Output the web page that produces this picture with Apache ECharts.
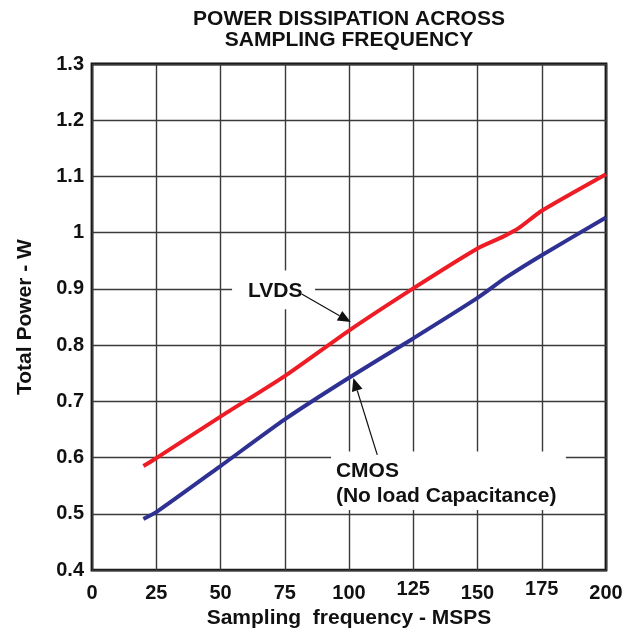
<!DOCTYPE html>
<html>
<head>
<meta charset="utf-8">
<script src="https://cdn.jsdelivr.net/npm/echarts@6/dist/echarts.min.js"></script>
<style>html,body{margin:0;padding:0;background:#fff;}#c{width:632px;height:634px;}</style>
</head>
<body>
<div id="c"></div>
<script>
// Data
var lvdsFreq = [20, 25, 50, 75, 100, 125, 150, 160, 166, 175, 200];
var lvdsPower = [0.585, 0.599, 0.673, 0.745, 0.826, 0.901, 0.972, 0.993, 1.008, 1.039, 1.104];
var cmosFreq = [20, 25, 50, 75, 100, 125, 150, 161, 175, 200];
var cmosPower = [0.491, 0.503, 0.585, 0.668, 0.742, 0.812, 0.884, 0.92, 0.96, 1.027];
var xTicks = [0, 25, 50, 75, 100, 125, 150, 175, 200];
var yTicks = [0.4, 0.5, 0.6, 0.7, 0.8, 0.9, 1, 1.1, 1.2, 1.3];
var raisedXTicks = [125, 175];
var titleText = 'POWER DISSIPATION ACROSS\nSAMPLING FREQUENCY';
var xName = 'Sampling  frequency - MSPS';
var yName = 'Total Power - W';
var lvdsLabel = 'LVDS';
var cmosLabel = 'CMOS\n(No load Capacitance)';

var FONT = '"Liberation Sans", Arial, sans-serif';
var INK = '#111';
var chart = echarts.init(document.getElementById('c'), null, {renderer: 'canvas'});

function pairs(xs, ys) { return xs.map(function (x, i) { return [x, ys[i]]; }); }

var option = {
  animation: false,
  backgroundColor: '#fff',
  title: {
    text: titleText,
    left: 344, top: 4, textAlign: 'center',
    textStyle: {fontFamily: FONT, fontWeight: 'bold', fontSize: 21, lineHeight: 21, color: INK}
  },
  grid: {left: 92, right: 26, top: 64, bottom: 58, show: true, borderColor: INK, borderWidth: 2.8, backgroundColor: 'transparent'},
  xAxis: {
    type: 'value', min: xTicks[0], max: xTicks[xTicks.length - 1], interval: xTicks[1] - xTicks[0],
    name: xName, nameLocation: 'middle', nameGap: 36,
    nameTextStyle: {fontFamily: FONT, fontWeight: 'bold', fontSize: 21, color: INK},
    axisLine: {show: false}, axisTick: {show: false},
    axisLabel: {
      margin: 10,
      formatter: function (v) { return (raisedXTicks.indexOf(v) >= 0) ? '{up|' + v + '}' : '{n|' + v + '}'; },
      rich: {
        n: {fontFamily: FONT, fontWeight: 'bold', fontSize: 20, color: INK, lineHeight: 26},
        up: {fontFamily: FONT, fontWeight: 'bold', fontSize: 20, color: INK, lineHeight: 18}
      }
    },
    splitLine: {show: true, lineStyle: {color: '#3a3a3a', width: 1.4}}
  },
  yAxis: {
    type: 'value', min: yTicks[0], max: yTicks[yTicks.length - 1], interval: 0.1,
    name: yName, nameLocation: 'middle', nameGap: 56, nameRotate: 90,
    nameTextStyle: {fontFamily: FONT, fontWeight: 'bold', fontSize: 21, color: INK},
    axisLine: {show: false}, axisTick: {show: false},
    axisLabel: {
      fontFamily: FONT, fontWeight: 'bold', fontSize: 20, color: INK, margin: 8,
      formatter: function (v) { return String(Math.round(v * 10) / 10); }
    },
    splitLine: {show: true, lineStyle: {color: '#3a3a3a', width: 1.4}}
  },
  series: [
    {name: 'LVDS', type: 'line', data: pairs(lvdsFreq, lvdsPower), showSymbol: false, smooth: 0.2,
     lineStyle: {color: '#ee1c25', width: 4}, z: 5},
    {name: 'CMOS', type: 'line', data: pairs(cmosFreq, cmosPower), showSymbol: false, smooth: 0.2,
     lineStyle: {color: '#2e3192', width: 4}, z: 5}
  ]
};
chart.setOption(option);

function P(x, y) { return chart.convertToPixel({gridIndex: 0}, [x, y]); }

function arrow(from, to) {
  var dx = to[0] - from[0], dy = to[1] - from[1];
  var len = Math.sqrt(dx * dx + dy * dy), ux = dx / len, uy = dy / len;
  var hl = 13, hw = 5.5;
  var bx = to[0] - ux * hl, by = to[1] - uy * hl;
  return [
    {type: 'line', shape: {x1: from[0], y1: from[1], x2: bx, y2: by}, style: {stroke: INK, lineWidth: 1.2}, z: 20},
    {type: 'polygon', shape: {points: [[to[0], to[1]], [bx - uy * hw, by + ux * hw], [bx + uy * hw, by - ux * hw]]},
     style: {fill: INK}, z: 20}
  ];
}

// Annotation anchors in data coordinates
var lvBoxTL = P(54.5, 0.9326), lvBoxBR = P(86.8, 0.864);
var cmBoxTL = P(93.0, 0.611), cmBoxBR = P(184.4, 0.507);
var lvText = P(60.7, 0.8957);
var cmText = P(94.9, 0.5538);
var lvArrowFrom = P(81.6, 0.891), lvArrowTo = P(100.7, 0.841);
var cmArrowFrom = P(111.0, 0.605), cmArrowTo = P(101.7, 0.7415);

var graphics = [
  {type: 'rect', shape: {x: lvBoxTL[0], y: lvBoxTL[1], width: lvBoxBR[0] - lvBoxTL[0], height: lvBoxBR[1] - lvBoxTL[1]},
   style: {fill: '#fff'}, z: 10},
  {type: 'rect', shape: {x: cmBoxTL[0], y: cmBoxTL[1], width: cmBoxBR[0] - cmBoxTL[0], height: cmBoxBR[1] - cmBoxTL[1]},
   style: {fill: '#fff'}, z: 10},
  {type: 'text', x: lvText[0], y: lvText[1], style: {text: lvdsLabel, fontFamily: FONT, fontWeight: 'bold', fontSize: 21,
   fill: INK, verticalAlign: 'middle', textAlign: 'left'}, z: 21},
  {type: 'text', x: cmText[0], y: cmText[1], style: {text: cmosLabel, fontFamily: FONT, fontWeight: 'bold', fontSize: 21,
   lineHeight: 25, fill: INK, verticalAlign: 'middle', textAlign: 'left'}, z: 21}
].concat(arrow(lvArrowFrom, lvArrowTo)).concat(arrow(cmArrowFrom, cmArrowTo));

chart.setOption({graphic: graphics});
</script>
</body>
</html>
